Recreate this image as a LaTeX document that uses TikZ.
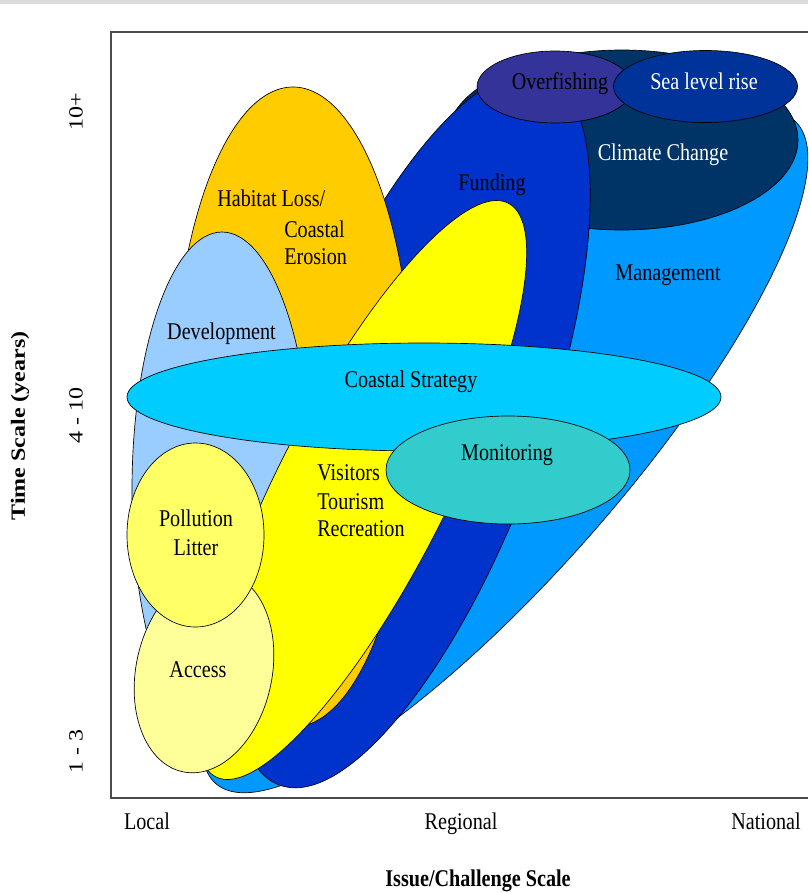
\documentclass[tikz,border=0pt]{standalone}
\usepackage{fontspec}
\setmainfont{Liberation Serif}[FakeStretch=0.84]
\newfontfamily\sidefont{Liberation Serif}
\definecolor{ManagementBlue}{RGB}{0,153,255}
\definecolor{ClimateNavy}{RGB}{0,51,102}
\definecolor{FundingBlue}{RGB}{0,51,204}
\definecolor{OverfishingPurple}{RGB}{51,51,153}
\definecolor{SeaBlue}{RGB}{0,51,153}
\definecolor{HabitatOrange}{RGB}{255,204,0}
\definecolor{DevelopmentBlue}{RGB}{153,204,255}
\definecolor{VisitorsYellow}{RGB}{255,255,0}
\definecolor{StrategyCyan}{RGB}{0,204,255}
\definecolor{MonitoringTeal}{RGB}{51,204,204}
\definecolor{PollutionYellow}{RGB}{255,255,102}
\definecolor{AccessYellow}{RGB}{255,255,153}

\begin{document}
\begin{tikzpicture}[x=0.75pt, y=-0.75pt, font=\fontsize{18}{21}\selectfont,
    issue/.style={draw=black, line width=0.5pt},
    lbl/.style={anchor=base, inner sep=0pt},
    sidelbl/.style={inner sep=0pt, font=\sidefont\fontsize{18}{21}\selectfont, xscale=0.84, rotate=90}]
    \useasboundingbox (0,0) rectangle (808,893);

    % Top strip
    \fill[black!14] (0,0) rectangle (808,4);

    % Issues, from back to front
    \draw[issue, fill=ManagementBlue, rotate around={48.9:(505,452)}] (505,452) ellipse [x radius=440, y radius=119];
    \draw[issue, fill=ClimateNavy] (622,140) ellipse [x radius=176, y radius=90];
    \draw[issue, fill=FundingBlue, rotate around={69.5:(412,430)}] (412,430) ellipse [x radius=379, y radius=127];
    \draw[issue, fill=OverfishingPurple] (555,87) ellipse [x radius=78, y radius=36];
    \draw[issue, fill=SeaBlue] (705.5,86.5) ellipse [x radius=92, y radius=36];
    \draw[issue, fill=HabitatOrange] (293,407) ellipse [x radius=120, y radius=320];
    \draw[issue, fill=DevelopmentBlue] (222,490) ellipse [x radius=90, y radius=258];
    \draw[issue, fill=VisitorsYellow, rotate around={63:(362,490)}] (362,490) ellipse [x radius=322, y radius=85];
    \draw[issue, fill=StrategyCyan] (424,397) ellipse [x radius=297, y radius=54];
    \draw[issue, fill=MonitoringTeal] (508,470) ellipse [x radius=122, y radius=54];
    \draw[issue, fill=AccessYellow, rotate around={-12:(204,672)}] (204,672) ellipse [x radius=68, y radius=102];
    \draw[issue, fill=PollutionYellow] (195.5,535) ellipse [x radius=68.5, y radius=92];

    % Frame
    \draw[line width=1.5pt, black!70] (808,32) -- (111,32) -- (111,798) -- (808,798);

    % Issue labels
    \node[lbl] (overfishing) at (560,89) {Overfishing};
    \node[lbl, white] (sealevel) at (704,89) {Sea level rise};
    \node[lbl, white] (climate) at (663,160) {Climate Change};
    \node[lbl] (funding) at (492,190) {Funding};
    \node[lbl] (management) at (668,280) {Management};
    \node[lbl, anchor=base west] (habitat) at (217,206) {Habitat Loss/};
    \node[lbl, anchor=base west] (coastal) at (284,237) {Coastal};
    \node[lbl, anchor=base west] (erosion) at (284,264) {Erosion};
    \node[lbl] (development) at (221.5,339) {Development};
    \node[lbl] (strategy) at (411,387) {Coastal Strategy};
    \node[lbl] (monitoring) at (507,460) {Monitoring};
    \node[lbl, anchor=base west] (visitors) at (317,480) {Visitors};
    \node[lbl, anchor=base west] (tourism) at (317,509) {Tourism};
    \node[lbl, anchor=base west] (recreation) at (317,536) {Recreation};
    \node[lbl] (pollution) at (196,526) {Pollution};
    \node[lbl] (litter) at (196,555) {Litter};
    \node[lbl] (access) at (198,677) {Access};

    % Axis labels
    \foreach \x/\name/\lab in {147/local/Local, 461/regional/Regional, 766/national/National}
        \node[lbl] (\name) at (\x,829) {\lab};
    \node[lbl, font=\fontsize{18}{21}\selectfont\bfseries] (issuescale) at (478,886) {Issue/Challenge Scale};
    \foreach \y/\name/\lab in {112/longterm/10+, 415/midterm/4 - 10, 751/shortterm/1 - 3}
        \node[sidelbl] (\name) at (76,\y) {\lab};
    \node[sidelbl, font=\sidefont\fontsize{18}{21}\selectfont\bfseries] (timescale) at (20,426) {Time Scale (years)};
\end{tikzpicture}
\end{document}
